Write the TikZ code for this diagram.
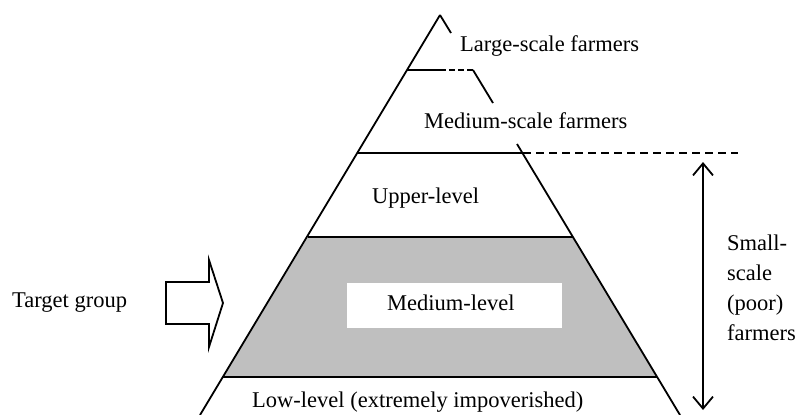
\documentclass[tikz,border=0pt]{standalone}
\usepackage{fontspec}
\setmainfont{Liberation Serif}
\usetikzlibrary{arrows.meta}
\begin{document}
\begin{tikzpicture}[x=1pt,y=-1pt,
  edge/.style={line width=1.8pt},
  thin dash/.style={line width=1.4pt, dash pattern=on 8pt off 5pt},
  lbl/.style={inner sep=0pt, anchor=base west, font=\fontsize{22.5}{30}\selectfont},
  barb/.style={line width=1.8pt, {Straight Barb[length=12pt,width=20pt]}-{Straight Barb[length=12pt,width=20pt]}},
]
\useasboundingbox (0,0) rectangle (798,415);
\coordinate (apex) at (440,15);
\coordinate (baseL) at (200,415);
\coordinate (baseR) at (680,415);
% shaded band (target group)
\fill[black!25] (308,237) -- (573.2,237) -- (657,377) -- (223,377) -- cycle;
\fill[white] (347,283) rectangle (562,328);
% pyramid edges
\draw[edge] (apex) -- (baseL);
\draw[edge] (apex) -- (451,33);
\draw[edge] (473,70) -- (493,103);
\draw[edge] (517,144) -- (baseR);
% level lines
\draw[edge] (407,70) -- (440,70);
\draw[line width=1.3pt, dash pattern=on 6pt off 3pt] (440,70) -- (473,70);
\draw[edge] (357,153) -- (523,153);
\draw[thin dash] (523,153) -- (738,153);
\draw[edge] (308,237) -- (573,237);
\draw[edge] (223,377) -- (657,377);
% labels
\node[lbl] (large) at (460,51) {Large-scale farmers};
\node[lbl] (medscale) at (424,128) {Medium-scale farmers};
\node[lbl] (upper) at (372,203) {Upper-level};
\node[lbl] (medlevel) at (387,310) {Medium-level};
\node[lbl] (low) at (252,407) {Low-level (extremely impoverished)};
\node[lbl] (target) at (12,307) {Target group};
\node[lbl, align=left] (small) at (727,340) {Small-\\scale\\(poor)\\farmers};
% block arrow
\draw[line width=1.8pt, line join=miter] (166,282) -- (209,282) -- (209,260) -- (223,303) -- (209,347) -- (209,324) -- (166,324) -- cycle;
% double arrow
\coordinate (arrtop) at (703,162);
\coordinate (arrbot) at (703,410);
\draw[barb] (arrtop) -- (arrbot);
\end{tikzpicture}
\end{document}
